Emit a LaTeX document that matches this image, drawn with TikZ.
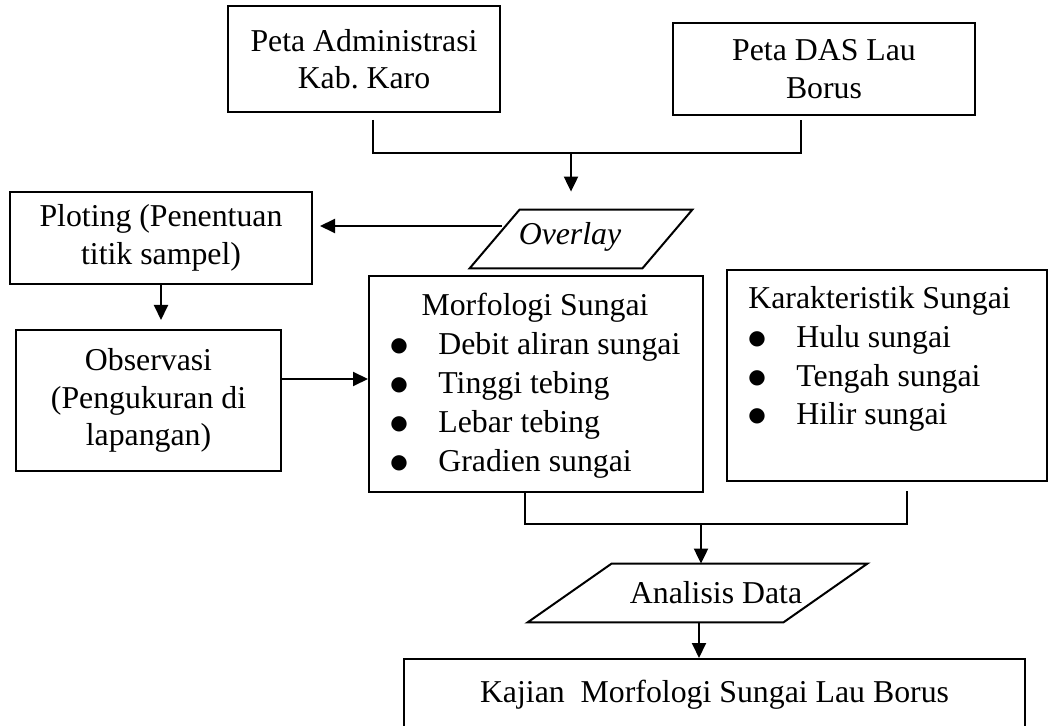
\documentclass[tikz,border=0pt]{standalone}
\usepackage{fontspec}
\setmainfont{Liberation Serif}
\newfontfamily\bulfont{DejaVu Sans}
\usetikzlibrary{arrows.meta,calc}
\frenchspacing
\newcommand{\dgfont}{\fontsize{15.9pt}{18.7pt}\selectfont}
\newcommand{\bul}{\makebox[23.5pt][l]{\hspace*{-0.5pt}\raisebox{1.5pt}{\bulfont\fontsize{10pt}{10pt}\selectfont ●}}}
\begin{document}
\begin{tikzpicture}[x=0.5pt,y=-0.5pt,
  box/.style={draw, line width=1pt, inner sep=0pt, align=center, font=\dgfont},
  txt/.style={font=\dgfont, inner sep=0pt},
  itm/.style={font=\dgfont, inner sep=0pt, anchor=base west},
  ln/.style={line width=1pt},
  arr/.style={line width=1pt, -{Triangle[length=7.5pt,width=7pt]}}]
\useasboundingbox (0,0) rectangle (1049,726);
\fill[white] (0,0) rectangle (1049,726);

% boxes
\node[box, minimum width=136pt, minimum height=53pt] (adm) at (364,59) {Peta Administrasi\\Kab. Karo};
\node[box, minimum width=151pt, minimum height=46pt] (das) at (824,69) {Peta DAS Lau\\Borus};
\node[box, minimum width=151pt, minimum height=46pt] (plot) at (161,238) {Ploting (Penentuan\\titik sampel)};
\node[box, minimum width=132.5pt, minimum height=70.5pt] (obs) at (148.5,400.5) {Observasi\\(Pengukuran di\\lapangan)};

\node[box, minimum width=167pt, minimum height=108pt] (morf) at (536,384) {};
\node[txt, anchor=base] (morft) at (535,316) {Morfologi Sungai};
\node[itm] (m1) at (391,355) {\bul Debit aliran sungai};
\node[itm] (m2) at (391,393.7) {\bul Tinggi tebing};
\node[itm] (m3) at (391,432.4) {\bul Lebar tebing};
\node[itm] (m4) at (391,471.1) {\bul Gradien sungai};

\node[box, minimum width=160pt, minimum height=105.5pt] (kar) at (887,375.5) {};
\node[itm] (kart) at (748,309) {Karakteristik Sungai};
\node[itm] (k1) at (749,348) {\bul Hulu sungai};
\node[itm] (k2) at (749,386.5) {\bul Tengah sungai};
\node[itm] (k3) at (749,425) {\bul Hilir sungai};

\node[box, minimum width=310.5pt, minimum height=35.5pt] (kaj) at (714.5,694.5) {Kajian\ \ Morfologi Sungai Lau Borus};

% parallelograms
\node[inner sep=0pt, minimum width=111pt, minimum height=29pt] (ov) at (581,239) {};
\draw[ln] (ov.south west) -- ([xshift=-25pt]ov.south east) -- (ov.north east) -- ([xshift=25pt]ov.north west) -- cycle;
\node[txt, font=\dgfont\itshape] (ovt) at (570,237) {Overlay};

\node[inner sep=0pt, minimum width=169.5pt, minimum height=29pt] (an) at (697.5,593) {};
\draw[ln] (an.south west) -- ([xshift=-42pt]an.south east) -- (an.north east) -- ([xshift=42pt]an.north west) -- cycle;
\node[txt] (ant) at (716,593) {Analisis Data};

% connectors
\coordinate (ja) at (373,120);
\coordinate (jb) at (373,153);
\coordinate (jc) at (801,153);
\coordinate (jd) at (801,120);
\draw[ln] (ja) -- (jb) -- (jc) -- (jd);
\coordinate (jm) at (571,153);
\draw[arr, shorten >=9pt] (jm) -- (jm |- ov.north);

\coordinate (ol) at (502,226);
\draw[arr, shorten >=3.5pt] (ol) -- (ol -| plot.east);

\draw[arr, shorten >=4.5pt] (plot.south) -- (plot.south |- obs.north);

\coordinate (oe) at (281,379);
\draw[arr] (oe) -- (oe -| morf.west);

\coordinate (ba) at (525,492);
\coordinate (bb) at (525,524);
\coordinate (bc) at (907,524);
\coordinate (bd) at (907,491);
\draw[ln] (ba) -- (bb) -- (bc) -- (bd);
\coordinate (bm) at (701,524);
\draw[arr] (bm) -- (bm |- an.north);

\coordinate (am) at (699,622);
\draw[arr] (am) -- (am |- kaj.north);
\end{tikzpicture}
\end{document}
